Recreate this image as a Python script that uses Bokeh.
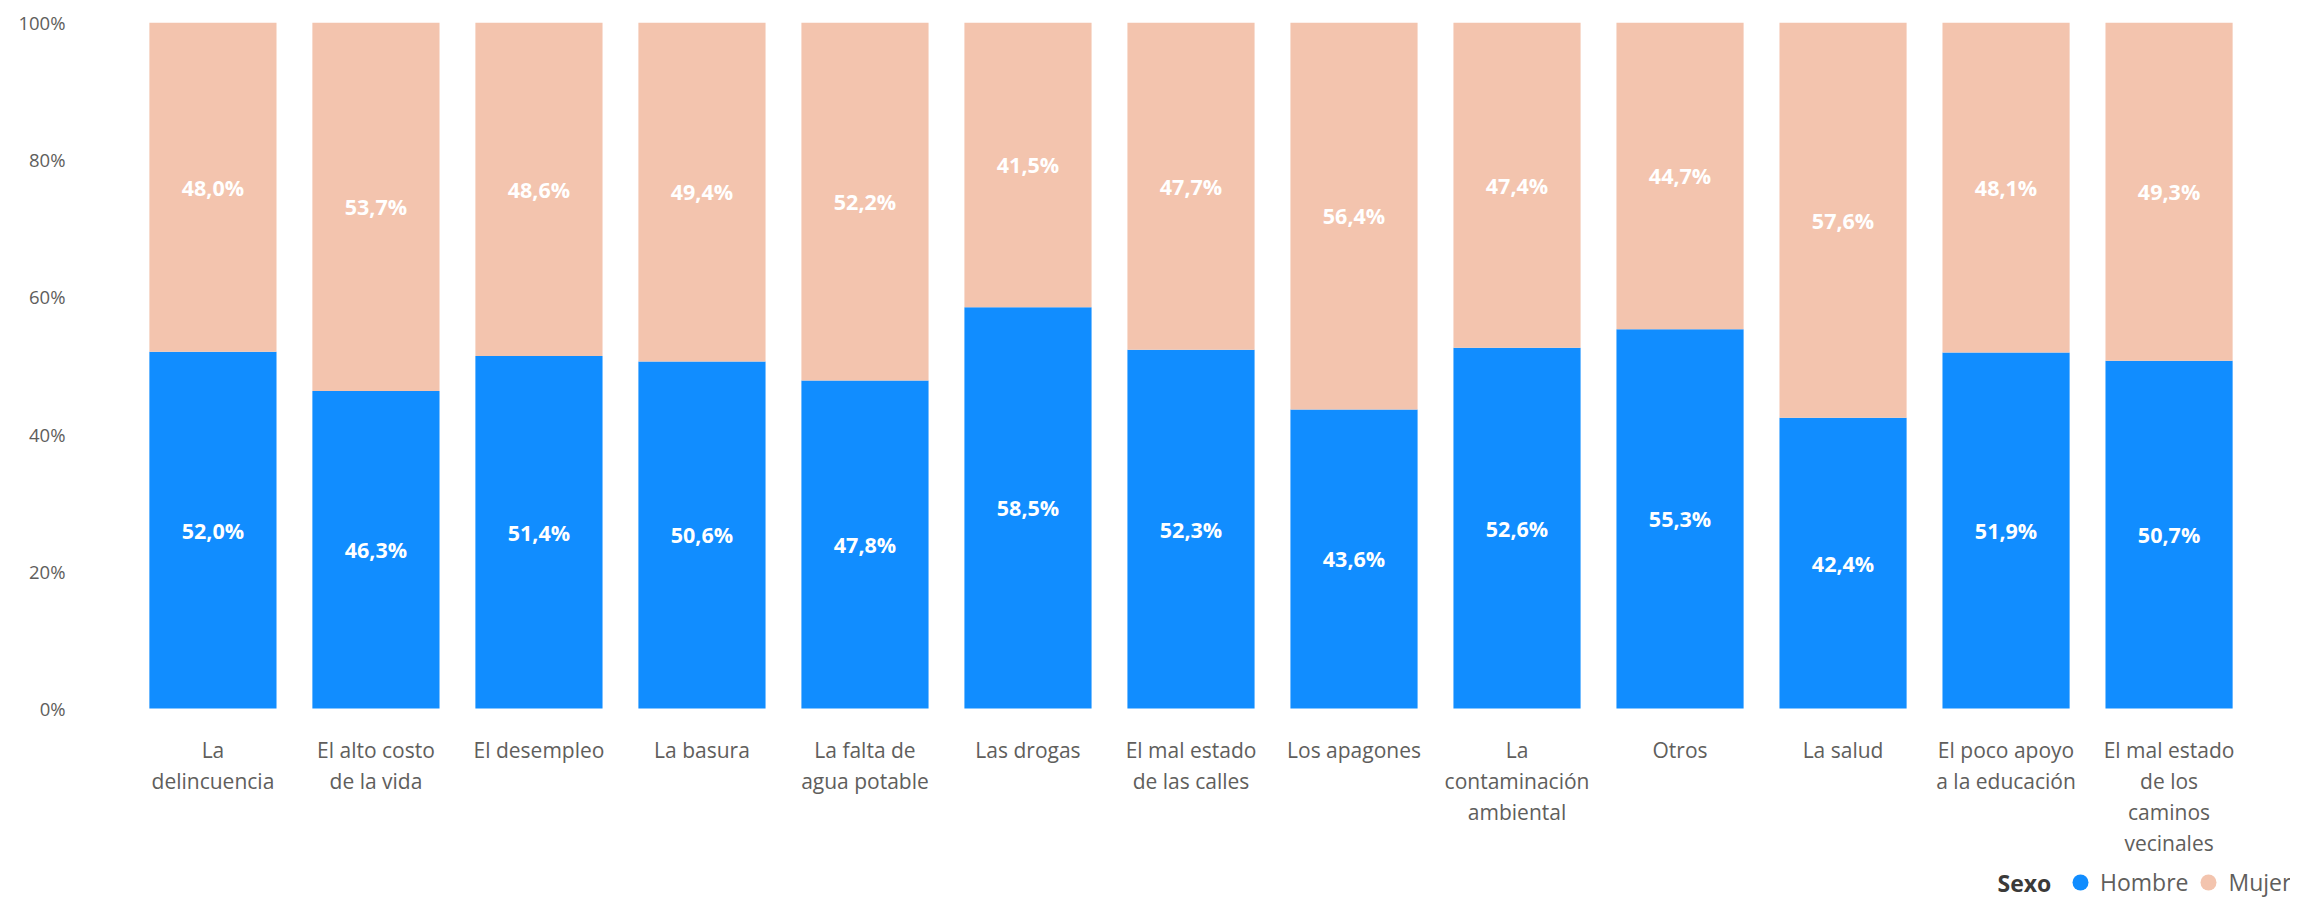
from bokeh.plotting import figure
from bokeh.models import (ColumnDataSource, FactorRange, Range1d, Legend, LegendItem,
                          Label, FixedTicker)
from bokeh.embed import file_html
from bokeh.resources import INLINE
from bokeh.core.properties import value

# ---------------- data ----------------
categories = [
    "La delincuencia", "El alto costo de la vida", "El desempleo", "La basura",
    "La falta de agua potable", "Las drogas", "El mal estado de las calles",
    "Los apagones", "La contaminación ambiental", "Otros", "La salud",
    "El poco apoyo a la educación", "El mal estado de los caminos vecinales",
]
category_labels = [
    "La\ndelincuencia", "El alto costo\nde la vida", "El desempleo", "La basura",
    "La falta de\nagua potable", "Las drogas", "El mal estado\nde las calles",
    "Los apagones", "La\ncontaminación\nambiental", "Otros", "La salud",
    "El poco apoyo\na la educación", "El mal estado\nde los\ncaminos\nvecinales",
]
hombre = [52.0, 46.3, 51.4, 50.6, 47.8, 58.5, 52.3, 43.6, 52.6, 55.3, 42.4, 51.9, 50.7]
mujer = [48.0, 53.7, 48.6, 49.4, 52.2, 41.5, 47.7, 56.4, 47.4, 44.7, 57.6, 48.1, 49.3]
series = ["Hombre", "Mujer"]
legend_title = "Sexo"
y_ticks = [0, 20, 40, 60, 80, 100]
y_tick_labels = ["0%", "20%", "40%", "60%", "80%", "100%"]

# ---------------- style / layout ----------------
BLUE = "#118DFF"
PEACH = "#F3C4AE"
TICK_COLOR = "#605E5C"
FONT = "Open Sans"

W, H = 2290, 897
FRAME_LEFT = 91
TOP_PX, ZERO_PX = 22, 708          # pixel rows of 100% and 0%
PX_PER_UNIT = (ZERO_PX - TOP_PX) / 100.0
Y_START = -(H - ZERO_PX) / PX_PER_UNIT   # frame extends below 0 to hold category labels
LABEL_FIRST, LABEL_STEP = 41, 31    # px below the baseline for wrapped label lines

def fmt(v):
    return f"{v:.1f}%".replace(".", ",")

src = ColumnDataSource(dict(
    cat=categories,
    Hombre=hombre,
    Mujer=mujer,
))

p = figure(
    x_range=FactorRange(factors=categories, range_padding=0.245,
                        range_padding_units="absolute"),
    y_range=Range1d(Y_START, 100),
    width=W, height=H,
    output_backend="svg", toolbar_location=None,
    min_border_left=FRAME_LEFT, min_border_right=0, min_border_top=TOP_PX,
    min_border_bottom=0,
)
p.outline_line_color = None
p.xgrid.visible = False
p.ygrid.visible = False
p.background_fill_color = "white"
p.border_fill_color = "white"
p.xaxis.visible = False

p.vbar_stack(series, x="cat", width=0.78, source=src, color=[BLUE, PEACH],
             line_color=None)

# data labels
lab_src = ColumnDataSource(dict(
    x=categories + categories,
    y=[h / 2 for h in hombre] + [h + m / 2 for h, m in zip(hombre, mujer)],
    t=[fmt(h) for h in hombre] + [fmt(m) for m in mujer],
))
p.text(x="x", y="y", text="t", source=lab_src, text_align="center",
       text_baseline="middle", text_color="white", text_font=value(FONT),
       text_font_style="bold", text_font_size="21.5px")

# category labels (wrapped, one text per line)
cx, cy, ct = [], [], []
for cat, lbl in zip(categories, category_labels):
    for j, line in enumerate(lbl.split("\n")):
        cx.append(cat)
        cy.append(-(LABEL_FIRST + LABEL_STEP * j) / PX_PER_UNIT)
        ct.append(line)
p.text(x=cx, y=cy, text=ct, text_align="center", text_baseline="middle",
       text_color=TICK_COLOR, text_font=value(FONT), text_font_size="21px")

# y axis
yax = p.yaxis[0]
yax.ticker = FixedTicker(ticks=y_ticks)
yax.major_label_overrides = {t: l for t, l in zip(y_ticks, y_tick_labels)}
yax.axis_line_color = None
yax.major_tick_line_color = None
yax.minor_tick_line_color = None
yax.major_tick_out = 0
yax.major_tick_in = 0
yax.major_label_standoff = 26
yax.major_label_text_font = FONT
yax.major_label_text_font_size = "18.5px"
yax.major_label_text_color = TICK_COLOR

# legend (zero-size markers on the data, used only for the legend swatches)
r_h = p.scatter(x="cat", y="Hombre", source=src, marker="circle", size=0,
                fill_color=BLUE, line_color=None)
r_m = p.scatter(x="cat", y="Mujer", source=src, marker="circle", size=0,
                fill_color=PEACH, line_color=None)
legend = Legend(
    items=[LegendItem(label=series[0], renderers=[r_h]),
           LegendItem(label=series[1], renderers=[r_m])],
    orientation="horizontal", location=(2060 - FRAME_LEFT, -8),
    glyph_width=40, glyph_height=46, label_standoff=0, spacing=0,
    padding=0, margin=0, background_fill_alpha=0, border_line_color=None,
    label_text_font=FONT, label_text_font_size="23px", label_text_color=TICK_COLOR,
)
p.add_layout(legend, "center")

p.add_layout(Label(x=1997 - FRAME_LEFT, y=15, x_units="screen", y_units="screen",
                   text=legend_title, text_baseline="middle", text_align="left",
                   text_font=FONT, text_font_style="bold", text_font_size="23px",
                   text_color="#3B3A39"))

open("out.html", "w").write(file_html(p, INLINE))
